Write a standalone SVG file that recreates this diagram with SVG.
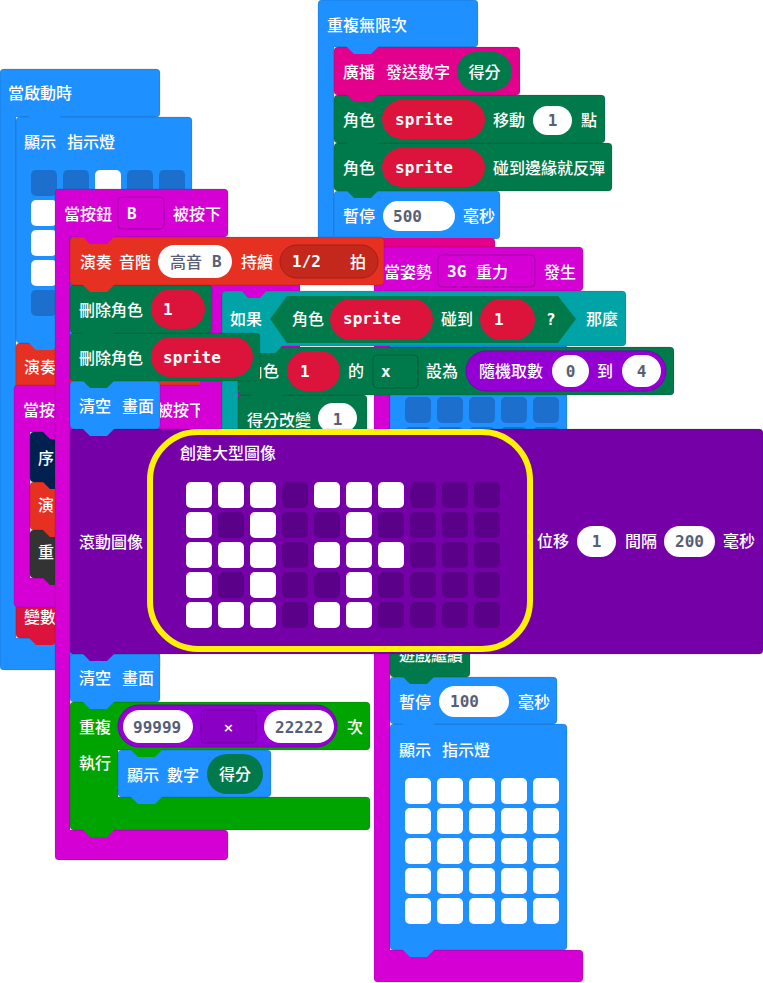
<svg xmlns="http://www.w3.org/2000/svg" width="763" height="983" viewBox="0 0 763 983">
<style>
.t{font-family:"Noto Sans CJK TC","Noto Sans CJK SC","Noto Sans",sans-serif;font-size:16px;font-weight:500;fill:#fff}
.m{font-family:"DejaVu Sans Mono","Liberation Mono",monospace;font-size:16px;font-weight:bold;fill:#fff}
.g{fill:#575E75}
.bk{stroke:#000;stroke-opacity:.12;stroke-width:1}
.blue{fill:#1E90FF}.mag{fill:#D400D4}.pink{fill:#E3008C}.game{fill:#007A4B}.spr{fill:#DC143C}
.red{fill:#E63022}.teal{fill:#00A4A6}.img{fill:#7600A8}.math{fill:#9400D3}.loop{fill:#00A400}
.wp{fill:#fff}.ledd{fill:#1c6fcc}.ledw{fill:#fff}.on{fill:#fff}.off{fill:#5b0088}
</style>
<defs>
<path id="tab" d="M12,-1 L20,7 H37 L45,-1 Z"/>
<rect id="led" width="26" height="26" rx="5"/>
</defs>

<!-- forever stack -->
<g id="forever">
<path class="blue bk" d="M322,0 H474 Q478,0 478,4 V43 Q478,47 474,47 H334 V250 H474 Q478,250 478,254 V276 Q478,280 474,280 H322 Q318,280 318,276 V4 Q318,0 322,0 Z"/>
<text class="t" x="327" y="31">重複無限次</text>
<g id="pause500">
<rect class="blue bk" x="334" y="191" width="166" height="48" rx="4"/>
<text class="t" x="343" y="222">暫停</text>
<rect class="wp" x="383" y="201" width="72" height="30" rx="15"/>
<text class="m g" x="393" y="222">500</text>
<text class="t" x="463" y="222">毫秒</text>
<use href="#tab" x="334" y="239" class="blue"/>
</g>
<g id="bounce">
<rect class="game bk" x="334" y="143" width="278" height="48" rx="4"/>
<text class="t" x="343" y="174">角色</text>
<rect class="spr" x="382" y="148" width="103" height="39" rx="19.5"/>
<text class="m" x="395" y="173">sprite</text>
<text class="t" x="493" y="174">碰到邊緣就反彈</text>
<use href="#tab" x="334" y="191" class="game"/>
</g>
<g id="move">
<rect class="game bk" x="334" y="95" width="271" height="48" rx="4"/>
<text class="t" x="343" y="126">角色</text>
<rect class="spr" x="382" y="100" width="103" height="39" rx="19.5"/>
<text class="m" x="395" y="125">sprite</text>
<text class="t" x="493" y="126">移動</text>
<rect class="wp" x="533" y="106" width="39" height="29" rx="14.5"/>
<text class="m g" x="552.5" y="126" text-anchor="middle">1</text>
<text class="t" x="581" y="126">點</text>
<use href="#tab" x="334" y="143" class="game"/>
</g>
<g id="radio">
<rect class="pink bk" x="334" y="47" width="186" height="48" rx="4"/>
<text class="t" x="343" y="78">廣播</text>
<text class="t" x="386" y="78">發送數字</text>
<rect class="game" x="457" y="52" width="55" height="39" rx="19.5"/>
<text class="t" x="484.5" y="78" text-anchor="middle">得分</text>
<use href="#tab" x="334" y="95" class="pink"/>
</g>
<use href="#tab" x="334" y="47" class="blue"/>
</g>

<rect id="pinkstrip" class="pink" x="343" y="238" width="152" height="30" rx="4"/>

<!-- on gesture stack -->
<g id="gesture">
<path class="mag bk" d="M378,247 H579 Q583,247 583,251 V287 Q583,291 579,291 H390 V950 H579 Q583,950 583,954 V978 Q583,982 579,982 H378 Q374,982 374,978 V251 Q374,247 378,247 Z"/>
<text class="t" x="384" y="278">當姿勢</text>
<rect class="mag" x="438" y="255" width="97" height="32" rx="4" stroke="#a300a3"/>
<text class="m" x="447" y="277">3G</text>
<text class="t" x="476" y="278">重力</text>
<text class="t" x="544" y="278">發生</text>
<g id="showleds2">
<rect class="blue bk" x="390" y="724" width="177" height="226" rx="4"/>
<text class="t" x="399" y="756">顯示</text>
<text class="t" x="442" y="756">指示燈</text>
<g class="ledw">
<use href="#led" x="405" y="778"/><use href="#led" x="437" y="778"/><use href="#led" x="469" y="778"/><use href="#led" x="501" y="778"/><use href="#led" x="533" y="778"/>
<use href="#led" x="405" y="808"/><use href="#led" x="437" y="808"/><use href="#led" x="469" y="808"/><use href="#led" x="501" y="808"/><use href="#led" x="533" y="808"/>
<use href="#led" x="405" y="838"/><use href="#led" x="437" y="838"/><use href="#led" x="469" y="838"/><use href="#led" x="501" y="838"/><use href="#led" x="533" y="838"/>
<use href="#led" x="405" y="868"/><use href="#led" x="437" y="868"/><use href="#led" x="469" y="868"/><use href="#led" x="501" y="868"/><use href="#led" x="533" y="868"/>
<use href="#led" x="405" y="898"/><use href="#led" x="437" y="898"/><use href="#led" x="469" y="898"/><use href="#led" x="501" y="898"/><use href="#led" x="533" y="898"/>
</g>
<use href="#tab" x="390" y="950" class="blue"/>
</g>
<g id="pause100">
<rect class="blue bk" x="390" y="677" width="167" height="47" rx="4"/>
<text class="t" x="399" y="708">暫停</text>
<rect class="wp" x="439" y="686" width="70" height="31" rx="15.5"/>
<text class="m g" x="450" y="707">100</text>
<text class="t" x="518" y="708">毫秒</text>
<use href="#tab" x="390" y="724" class="blue"/>
</g>
<g id="gamecontinue">
<rect class="game bk" x="390" y="629" width="80" height="48" rx="4"/>
<text class="t" x="399" y="661">遊戲繼續</text>
<use href="#tab" x="390" y="677" class="game"/>
</g>
<g id="showleds1">
<rect class="blue bk" x="390" y="344" width="177" height="225" rx="4"/>
<g class="ledd">
<use href="#led" x="405" y="397"/><use href="#led" x="437" y="397"/><use href="#led" x="469" y="397"/><use href="#led" x="501" y="397"/><use href="#led" x="533" y="397"/>
<use href="#led" x="405" y="427"/><use href="#led" x="437" y="427"/><use href="#led" x="469" y="427"/><use href="#led" x="501" y="427"/><use href="#led" x="533" y="427"/>
</g>
<use href="#tab" x="390" y="569" class="blue"/>
</g>
<use href="#tab" x="390" y="291" class="mag"/>
</g>

<!-- on start stack -->
<g id="onstart">
<path class="blue bk" d="M4,69 H156 Q160,69 160,73 V113 Q160,117 156,117 H16 V638 H156 Q160,638 160,642 V666 Q160,670 156,670 H4 Q0,670 0,666 V73 Q0,69 4,69 Z"/>
<text class="t" x="8" y="99">當啟動時</text>
<g id="variable">
<rect class="spr bk" x="16" y="590" width="150" height="48" rx="4"/>
<text class="t" x="24" y="623">變數</text>
<use href="#tab" x="16" y="638" class="spr"/>
</g>
<g id="playleft">
<rect class="red bk" x="16" y="343" width="200" height="48" rx="4"/>
<text class="t" x="24" y="373">演奏</text>
<use href="#tab" x="16" y="391" class="red"/>
</g>
<g id="showledsleft">
<rect class="blue bk" x="16" y="117" width="176" height="226" rx="4"/>
<text class="t" x="24" y="148">顯示</text>
<text class="t" x="67" y="148">指示燈</text>
<g class="ledd">
<use href="#led" x="31" y="170"/><use href="#led" x="63" y="170"/><use href="#led" x="127" y="170"/><use href="#led" x="159" y="170"/>
<use href="#led" x="63" y="200"/><use href="#led" x="95" y="200"/><use href="#led" x="127" y="200"/><use href="#led" x="159" y="200"/>
<use href="#led" x="63" y="230"/><use href="#led" x="95" y="230"/><use href="#led" x="127" y="230"/><use href="#led" x="159" y="230"/>
<use href="#led" x="63" y="260"/><use href="#led" x="95" y="260"/><use href="#led" x="127" y="260"/><use href="#led" x="159" y="260"/>
<use href="#led" x="31" y="290"/><use href="#led" x="63" y="290"/><use href="#led" x="95" y="290"/><use href="#led" x="127" y="290"/><use href="#led" x="159" y="290"/>
</g>
<g class="ledw">
<use href="#led" x="95" y="170"/><use href="#led" x="31" y="200"/><use href="#led" x="31" y="230"/><use href="#led" x="31" y="260"/>
</g>
<use href="#tab" x="16" y="343" class="blue"/>
</g>
<use href="#tab" x="16" y="117" class="blue"/>
</g>

<!-- second button event -->
<g id="button2">
<path class="mag bk" d="M18,385 H218 Q222,385 222,389 V428 Q222,432 218,432 H30 V578 H160 Q164,578 164,582 V603 Q164,607 160,607 H18 Q14,607 14,603 V389 Q14,385 18,385 Z"/>
<text class="t" x="23" y="416">當按</text>
<text class="t" x="157" y="416">被按下</text>
<g id="ctrl">
<rect class="bk" fill="#333333" x="30" y="530" width="100" height="48" rx="4"/>
<text class="t" x="38" y="558">重</text>
<use href="#tab" x="30" y="578" fill="#333333"/>
</g>
<g id="play2">
<rect class="red bk" x="30" y="482" width="100" height="48" rx="4"/>
<text class="t" x="38" y="511">演</text>
<use href="#tab" x="30" y="530" class="red"/>
</g>
<g id="serial">
<rect class="bk" fill="#002050" x="30" y="432" width="100" height="50" rx="4"/>
<text class="t" x="38" y="464">序</text>
<use href="#tab" x="30" y="482" fill="#002050"/>
</g>
<use href="#tab" x="30" y="432" class="mag"/>
</g>

<rect id="magstrip" class="mag" x="200" y="283" width="100" height="149"/>

<!-- if block -->
<g id="ifblock">
<path class="teal bk" d="M226,291 H622 Q626,291 626,295 V342 Q626,346 622,346 H238 V440 H622 Q626,440 626,444 V460 Q626,464 622,464 H226 Q222,464 222,460 V295 Q222,291 226,291 Z"/>
<path class="mag" d="M241,290 L248,298 H260 L267,290 Z"/>
<text class="t" x="230" y="325">如果</text>
<polygon class="game" points="270,319 287,296 558,296 576,319 558,343 287,343"/>
<text class="t" x="292" y="325">角色</text>
<rect class="spr" x="330" y="299" width="103" height="41" rx="20.5"/>
<text class="m" x="343" y="324">sprite</text>
<text class="t" x="441" y="325">碰到</text>
<rect class="spr" x="480" y="299" width="55" height="41" rx="20.5"/>
<text class="m" x="494" y="325">1</text>
<text class="m" x="546" y="325">?</text>
<text class="t" x="586" y="325">那麼</text>
<g id="scorechange">
<rect class="game bk" x="238" y="395" width="129" height="48" rx="4"/>
<text class="t" x="247" y="426">得分改變</text>
<rect class="wp" x="318" y="403" width="39" height="30" rx="15"/>
<text class="m g" x="337.5" y="425" text-anchor="middle">1</text>
<use href="#tab" x="238" y="443" class="game"/>
</g>
<g id="setx">
<rect class="game bk" x="238" y="347" width="436" height="48" rx="4"/>
<text class="t" x="247" y="377">角色</text>
<rect class="spr" x="287" y="351" width="53" height="40" rx="20"/>
<text class="m" x="300" y="377">1</text>
<text class="t" x="348" y="377">的</text>
<rect class="game" x="373" y="355" width="45" height="33" rx="4" stroke="#005a37"/>
<text class="m" x="381" y="377">x</text>
<text class="t" x="426" y="377">設為</text>
<rect class="math" x="466" y="351" width="200" height="40" rx="20" stroke="#7a00ad"/>
<text class="t" x="479" y="377">隨機取數</text>
<rect class="wp" x="552" y="355" width="37" height="32" rx="16"/>
<text class="m g" x="570.5" y="377" text-anchor="middle">0</text>
<text class="t" x="597" y="377">到</text>
<rect class="wp" x="622" y="355" width="39" height="32" rx="16"/>
<text class="m g" x="641.5" y="377" text-anchor="middle">4</text>
<use href="#tab" x="238" y="395" class="game"/>
</g>
<use href="#tab" x="238" y="346" class="teal"/>
</g>

<!-- button B stack -->
<g id="buttonB">
<path class="mag bk" d="M59,189 H224 Q228,189 228,193 V233 Q228,237 224,237 H70 V830 H224 Q228,830 228,834 V856 Q228,860 224,860 H59 Q55,860 55,856 V193 Q55,189 59,189 Z"/>
<text class="t" x="64" y="220">當按鈕</text>
<rect class="mag" x="118" y="197" width="46" height="32" rx="4" stroke="#a000a0"/>
<text class="m" x="127" y="219">B</text>
<text class="t" x="173" y="220">被按下</text>

<g id="repeat">
<path class="loop bk" d="M74,702 H366 Q370,702 370,706 V746 Q370,750 366,750 H118 V797 H366 Q370,797 370,801 V826 Q370,830 366,830 H74 Q70,830 70,826 V706 Q70,702 74,702 Z"/>
<text class="t" x="79" y="733">重複</text>
<text class="t" x="79" y="769">執行</text>
<text class="t" x="347" y="733">次</text>
<rect class="math" x="118" y="705" width="219" height="42" rx="21" stroke="#7a00ad"/>
<rect class="wp" x="123" y="710" width="70" height="33" rx="16.5"/>
<text class="m g" x="133" y="733">99999</text>
<rect x="201" y="710" width="55" height="33" rx="4" fill="#8a00c4" stroke="#6f00a0"/>
<text x="228.5" y="732" text-anchor="middle" font-family="DejaVu Sans,sans-serif" font-size="13" font-weight="bold" fill="#fff">×</text>
<rect class="wp" x="264" y="710" width="70" height="33" rx="16.5"/>
<text class="m g" x="275" y="733">22222</text>
<g id="shownumber">
<rect class="blue bk" x="118" y="750" width="153" height="47" rx="4"/>
<text class="t" x="127" y="781">顯示</text>
<text class="t" x="167" y="781">數字</text>
<rect class="game" x="207" y="754" width="56" height="40" rx="20"/>
<text class="t" x="235" y="780" text-anchor="middle">得分</text>
<use href="#tab" x="118" y="797" class="blue"/>
</g>
<use href="#tab" x="118" y="750" class="loop"/>
<use href="#tab" x="70" y="830" class="loop"/>
</g>

<g id="clear2">
<rect class="blue bk" x="70" y="654" width="90" height="48" rx="4"/>
<text class="t" x="79" y="684">清空</text>
<text class="t" x="122" y="684">畫面</text>
<use href="#tab" x="70" y="702" class="blue"/>
</g>

<g id="scrollimage">
<rect class="img bk" x="70" y="429" width="693" height="225" rx="4"/>
<text class="t" x="79" y="548">滾動圖像</text>
<rect x="150" y="432" width="380" height="217" rx="48" fill="#7600A8" stroke="#fff200" stroke-width="6"/>
<text class="t" x="180" y="459">創建大型圖像</text>
<g class="on">
<use href="#led" x="186" y="482"/><use href="#led" x="218" y="482"/><use href="#led" x="250" y="482"/><use href="#led" x="314" y="482"/><use href="#led" x="346" y="482"/><use href="#led" x="378" y="482"/>
<use href="#led" x="186" y="512"/><use href="#led" x="250" y="512"/><use href="#led" x="346" y="512"/>
<use href="#led" x="186" y="542"/><use href="#led" x="218" y="542"/><use href="#led" x="250" y="542"/><use href="#led" x="314" y="542"/><use href="#led" x="346" y="542"/><use href="#led" x="378" y="542"/>
<use href="#led" x="186" y="572"/><use href="#led" x="250" y="572"/><use href="#led" x="346" y="572"/>
<use href="#led" x="186" y="602"/><use href="#led" x="218" y="602"/><use href="#led" x="250" y="602"/><use href="#led" x="314" y="602"/><use href="#led" x="346" y="602"/>
</g>
<g class="off">
<use href="#led" x="282" y="482"/><use href="#led" x="410" y="482"/><use href="#led" x="442" y="482"/><use href="#led" x="474" y="482"/>
<use href="#led" x="218" y="512"/><use href="#led" x="282" y="512"/><use href="#led" x="314" y="512"/><use href="#led" x="378" y="512"/><use href="#led" x="410" y="512"/><use href="#led" x="442" y="512"/><use href="#led" x="474" y="512"/>
<use href="#led" x="282" y="542"/><use href="#led" x="410" y="542"/><use href="#led" x="442" y="542"/><use href="#led" x="474" y="542"/>
<use href="#led" x="218" y="572"/><use href="#led" x="282" y="572"/><use href="#led" x="314" y="572"/><use href="#led" x="378" y="572"/><use href="#led" x="410" y="572"/><use href="#led" x="442" y="572"/><use href="#led" x="474" y="572"/>
<use href="#led" x="282" y="602"/><use href="#led" x="378" y="602"/><use href="#led" x="410" y="602"/><use href="#led" x="442" y="602"/><use href="#led" x="474" y="602"/>
</g>
<text class="t" x="537" y="547">位移</text>
<rect class="wp" x="577" y="526" width="39" height="31" rx="15.5"/>
<text class="m g" x="596.5" y="547" text-anchor="middle">1</text>
<text class="t" x="625" y="547">間隔</text>
<rect class="wp" x="664" y="526" width="51" height="31" rx="15.5"/>
<text class="m g" x="675" y="547">200</text>
<text class="t" x="723" y="547">毫秒</text>
<use href="#tab" x="70" y="654" class="img"/>
</g>

<g id="clear1">
<rect class="blue bk" x="70" y="381" width="90" height="48" rx="4"/>
<text class="t" x="79" y="412">清空</text>
<text class="t" x="122" y="412">畫面</text>
<use href="#tab" x="70" y="429" class="blue"/>
</g>

<g id="deletesprite">
<rect class="game bk" x="70" y="333" width="190" height="48" rx="4"/>
<text class="t" x="79" y="364">刪除角色</text>
<rect class="spr" x="151" y="337" width="102" height="40" rx="20"/>
<text class="m" x="163" y="363">sprite</text>
<use href="#tab" x="70" y="381" class="game"/>
</g>

<g id="delete1">
<rect class="game bk" x="70" y="285" width="142" height="48" rx="4"/>
<text class="t" x="79" y="316">刪除角色</text>
<rect class="spr" x="151" y="289" width="54" height="40" rx="20"/>
<text class="m" x="163" y="315">1</text>
<use href="#tab" x="70" y="333" class="game"/>
</g>

<g id="playtone">
<rect class="red bk" x="70" y="237" width="314" height="48" rx="4"/>
<text class="t" x="80" y="268">演奏</text>
<text class="t" x="119" y="268">音階</text>
<rect class="wp" x="158" y="245" width="74" height="33" rx="16.5"/>
<text class="t g" x="170" y="268">高音</text>
<text class="m g" x="212" y="267">B</text>
<text class="t" x="241" y="268">持續</text>
<rect x="280" y="245" width="98" height="33" rx="16.5" fill="#c4281c" stroke="#a51f16"/>
<text class="m" x="292" y="267">1/2</text>
<text class="t" x="350" y="268">拍</text>
<use href="#tab" x="70" y="285" class="red"/>
</g>
<use href="#tab" x="70" y="237" class="mag"/>
</g>

<g id="connectors"/>
</svg>
